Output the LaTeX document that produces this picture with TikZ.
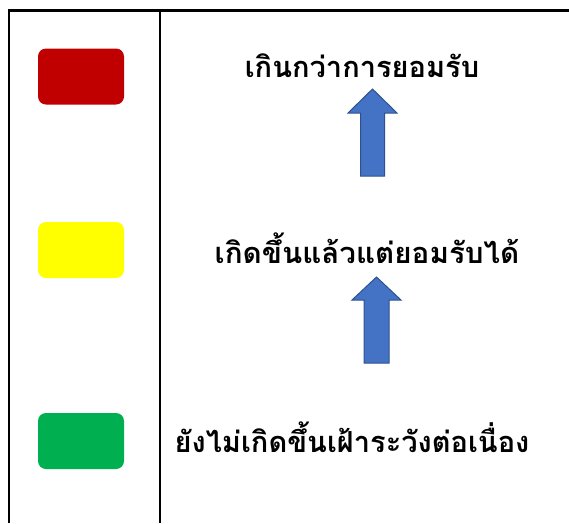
\documentclass[tikz,border=0pt]{standalone}
\usepackage{fontspec}
\newfontfamily\thaifont[Script=Thai]{Loma}
\usepackage{tikz}
\usetikzlibrary{calc,positioning}
\definecolor{risk_red}{RGB}{192, 0, 0}
\definecolor{risk_yellow}{RGB}{255, 255, 0}
\definecolor{risk_green}{RGB}{0, 176, 80}
\definecolor{arrow_blue}{RGB}{68, 114, 196}
\definecolor{arrow_edge}{RGB}{47, 82, 143}
\tikzset{
  levelbox/.style = {rounded corners=8pt, minimum width=86pt, minimum height=56pt, inner sep=0pt, draw=none},
  leveltext/.style = {font=\thaifont\bfseries\fontsize{29}{34}\selectfont, inner sep=0pt, anchor=center},
  blockarrow/.style = {fill=arrow_blue, draw=arrow_edge, line width=1pt, line join=miter}
}

\begin{document}
\begin{tikzpicture}[x=1pt,y=-1pt,
        	grid/.style={line width=2.5pt, black}]
            \useasboundingbox (0,0) rectangle (569,523);
            % table lines
            \coordinate (tl) at (9,10.5);
            \coordinate (tr) at (569,10.5);
            \coordinate (bl) at (9,523);
            \coordinate (mt) at (160,10.5);
            \coordinate (mb) at (160,523);
            \draw[grid] ($(tl)+(-1.2,0)$) -- (tr);
            \draw[grid] (tl) -- (bl);
            \draw[grid] (mt) -- (mb);
            % colour boxes
            \node [levelbox, fill=risk_red] (red) at (81,76.5) {};
            \node [levelbox, fill=risk_yellow] (yellow) at (81,250) {};
            \node [levelbox, fill=risk_green] (green) at (81,441) {};
            % level texts
            \node [leveltext] (high) at (362,66) {เกินกว่าการยอมรับ};
            \node [leveltext, xscale=1.02] (mid) at (367,248.5) {เกิดขึ้นแล้วแต่ยอมรับได้};
            \node [leveltext] (low) at (352,437) {ยังไม่เกิดขึ้นเฝ้าระวังต่อเนื่อง};
            % arrows
            \coordinate (tip1) at (372.5,89);
            \coordinate (tip2) at (376.5,277);
            \draw[blockarrow] (tip1) -- ++(24.5,24) -- ++(-12.5,0) -- ++(0,63) -- ++(-24,0)
              -- ++(0,-63) -- ++(-12.5,0) -- cycle;
            \draw[blockarrow] (tip2) -- ++(24.5,23) -- ++(-12,0) -- ++(0,63) -- ++(-25,0)
              -- ++(0,-63) -- ++(-12,0) -- cycle;
        \end{tikzpicture}
\end{document}
